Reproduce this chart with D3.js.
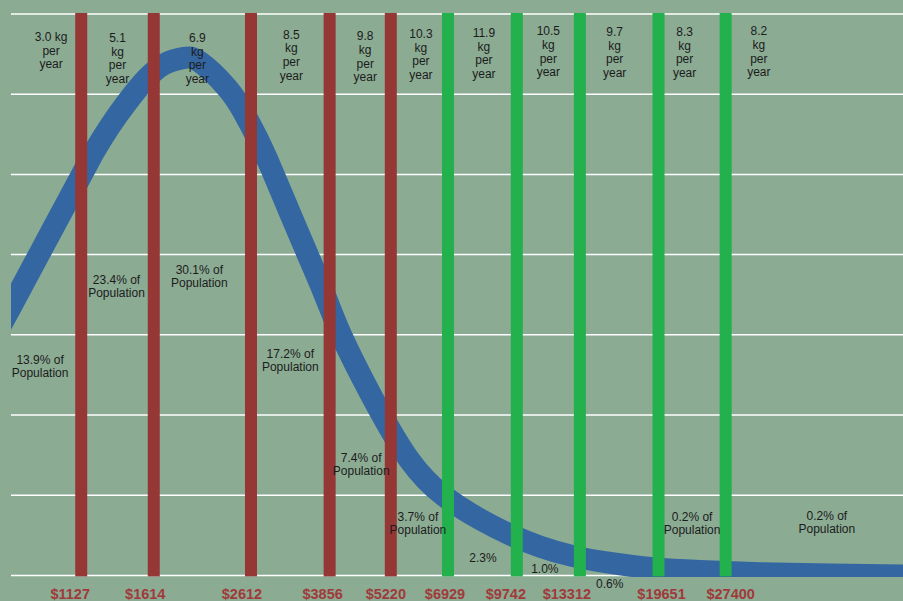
<!DOCTYPE html>
<html><head><meta charset="utf-8">
<script src="https://cdn.jsdelivr.net/npm/d3@7/dist/d3.min.js"></script>
<style>
html,body{margin:0;padding:0;background:#8bab93;}
svg{display:block;}
text{font-family:"Liberation Sans",Arial,Helvetica,sans-serif;}
</style>
</head><body>
<svg id="chart" width="903" height="601"></svg>
<script>
// ---------- DATA ----------
const thresholds = [1127, 1614, 2612, 3856, 5220, 6929, 9742, 13312, 19651, 27400];
const thresholdLabels = ["$1127", "$1614", "$2612", "$3856", "$5220", "$6929", "$9742", "$13312", "$19651", "$27400"];
const thresholdGroup = ["low", "low", "low", "low", "low", "high", "high", "high", "high", "high"];
const kgLabels = [
  ["3.0 kg", "per", "year"],
  ["5.1", "kg", "per", "year"],
  ["6.9", "kg", "per", "year"],
  ["8.5", "kg", "per", "year"],
  ["9.8", "kg", "per", "year"],
  ["10.3", "kg", "per", "year"],
  ["11.9", "kg", "per", "year"],
  ["10.5", "kg", "per", "year"],
  ["9.7", "kg", "per", "year"],
  ["8.3", "kg", "per", "year"],
  ["8.2", "kg", "per", "year"]
];
const popLabels = [
  ["13.9% of", "Population"],
  ["23.4% of", "Population"],
  ["30.1% of", "Population"],
  ["17.2% of", "Population"],
  ["7.4% of", "Population"],
  ["3.7% of", "Population"],
  ["2.3%"],
  ["1.0%"],
  ["0.6%"],
  ["0.2% of", "Population"],
  ["0.2% of", "Population"]
];
const curveIncome = [754, 796, 914, 1131, 1206, 1299, 1414, 1561, 1707, 1865, 2029, 2319, 2510, 2691, 2884, 3168, 3464, 3768, 4079, 4504, 4996, 5741, 6760, 8120, 9418, 10928, 12866, 15453, 19117, 24131, 32483, 45936, 65940];
const curveDensity = [3.10, 3.35, 4.0, 5.0, 5.3, 5.6, 5.9, 6.2, 6.38, 6.45, 6.40, 6.08, 5.79, 5.46, 5.08, 4.52, 3.99, 3.49, 3.0, 2.49, 2.0, 1.43, 1.0, 0.70, 0.51, 0.36, 0.24, 0.155, 0.09, 0.055, 0.028, 0.01, 0.0];
const gridValues = [0, 1, 2, 3, 4, 5, 6, 7];
const incomeDomain = [796, 65940];
const densityDomain = [0, 7];

// ---------- LAYOUT ----------
const plotLeft = 11, plotRight = 903, plotTop = 14, plotBottom = 575.4;
const barWidth = 12;
const kgDx = [5, 0, -5, 1, 5, 1.5, 1.5, 0, -4.5, -7.5, -55.5];
const kgTop = [32.3, 33.3, 33.3, 30, 31.7, 29.3, 28.3, 26.7, 27.3, 27.3, 26.7];
const popDx = [-6, -1, -3, 0, 1, -1.5, 0.5, -3.5, -9.5, 0, 12.5];
const popTop = [355, 275, 265, 349, 453, 512, 553, 564, 579, 512, 511];
const incomeDx = [-11, -8.5, -9, -7, -5, -3, -11, -13, 3, 5];
const colors = {low: "#953735", high: "#22b14c", curve: "#3467a2", grid: "#ffffff", income: "#a03a3a", text: "#1c1c1c"};

const svg = d3.select("#chart");
const x = d3.scaleLog().domain(incomeDomain).range([plotLeft, plotRight]);
const y = d3.scaleLinear().domain(densityDomain).range([plotBottom, plotTop]);

svg.append("defs").append("clipPath").attr("id", "plotclip")
  .append("rect").attr("x", plotLeft).attr("y", 0)
  .attr("width", plotRight - plotLeft).attr("height", plotBottom + 1.5);

// gridlines
svg.append("g").selectAll("line").data(gridValues).join("line")
  .attr("x1", plotLeft).attr("x2", plotRight)
  .attr("y1", d => y(d)).attr("y2", d => y(d))
  .attr("stroke", colors.grid).attr("stroke-width", 1.5);

// curve
const pts = curveIncome.map((v, i) => [v, curveDensity[i]]);
const line = d3.line().x(d => x(d[0])).y(d => y(d[1])).curve(d3.curveNatural);
svg.append("path").datum(pts)
  .attr("d", line)
  .attr("clip-path", "url(#plotclip)")
  .attr("fill", "none")
  .attr("stroke", colors.curve)
  .attr("stroke-width", 22);

// bars
svg.append("g").selectAll("rect").data(thresholds).join("rect")
  .attr("x", d => x(d) - barWidth / 2)
  .attr("width", barWidth)
  .attr("y", y(densityDomain[1]) - 1)
  .attr("height", y(densityDomain[0]) - y(densityDomain[1]) + 2)
  .attr("fill", (d, i) => colors[thresholdGroup[i]]);

// segment midpoints
const bounds = [x.invert(plotLeft), ...thresholds, x.invert(plotRight)];
const mids = d3.range(bounds.length - 1).map(i => (x(bounds[i]) + x(bounds[i + 1])) / 2);

// kg labels
const kgG = svg.append("g").attr("fill", colors.text).attr("font-size", 12).attr("text-anchor", "middle");
kgLabels.forEach((lines, i) => {
  const t = kgG.append("text").attr("x", mids[i] + kgDx[i]).attr("y", kgTop[i] + 8.7);
  lines.forEach((s, j) => t.append("tspan").attr("x", mids[i] + kgDx[i]).attr("dy", j === 0 ? 0 : 13.6).text(s));
});

// population labels
const popG = svg.append("g").attr("fill", colors.text).attr("font-size", 12).attr("text-anchor", "middle");
popLabels.forEach((lines, i) => {
  const t = popG.append("text").attr("x", mids[i] + popDx[i]).attr("y", popTop[i] + 8.7);
  lines.forEach((s, j) => t.append("tspan").attr("x", mids[i] + popDx[i]).attr("dy", j === 0 ? 0 : 13.6).text(s));
});

// income labels
svg.append("g").selectAll("text").data(thresholds).join("text")
  .attr("x", (d, i) => x(d) + incomeDx[i])
  .attr("y", 599)
  .attr("text-anchor", "middle")
  .attr("font-size", 14.5)
  .attr("font-weight", "bold")
  .attr("fill", colors.income)
  .text((d, i) => thresholdLabels[i]);
</script>
</body></html>
